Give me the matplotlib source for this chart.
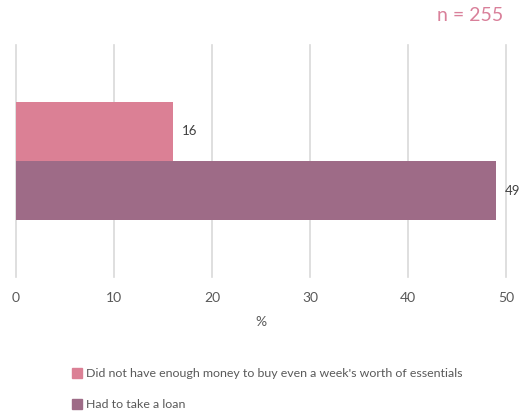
import matplotlib.pyplot as plt
from matplotlib.patches import Patch

plt.rcParams['font.family'] = ['Lato', 'DejaVu Sans']

# data
series = ["Did not have enough money to buy even a week's worth of essentials",
          "Had to take a loan"]
values = [16, 49]
colors = ["#DB8095", "#9E6B87"]
xticks = [0, 10, 20, 30, 40, 50]

fig = plt.figure(figsize=(5.26, 4.13), dpi=100)
ax = fig.add_axes([0.0304, 0.329, 0.9316, 0.562])

bar_h = 0.256
centre = 0.5
for i, (v, c) in enumerate(zip(values, colors)):
    y = centre + bar_h / 2 - i * bar_h
    ax.barh(y, v, height=bar_h, color=c, zorder=2)
    ax.text(v + 0.9, y, str(v), va="center", ha="left", fontsize=9.5, color="#404040")

ax.set_xlim(0, 50)
ax.set_ylim(0, 1)
ax.set_xticks(xticks)
ax.set_yticks([])
ax.grid(axis="x", color="#D9D9D9", linewidth=1.2, zorder=0)
for gl in ax.get_xgridlines():
    gl.set_clip_on(False)
for s in ax.spines.values():
    s.set_visible(False)
ax.tick_params(axis="x", length=0, pad=11, labelsize=10, labelcolor="#595959")
ax.set_xlabel("%", fontsize=10, color="#595959", labelpad=8)

handles = [Patch(color=c, label=s) for s, c in zip(series, colors)]
fig.legend(handles=handles, loc="upper left", bbox_to_anchor=(0.128, 0.12),
           frameon=False, fontsize=8.9, labelcolor="#595959",
           handlelength=0.8, handleheight=0.8, handletextpad=0.3,
           labelspacing=1.6, borderaxespad=0)

fig.text(0.957, 0.962, "n = 255", ha="right", va="center", fontsize=14, color="#D9809A")

fig.savefig("out.png", dpi=100)
